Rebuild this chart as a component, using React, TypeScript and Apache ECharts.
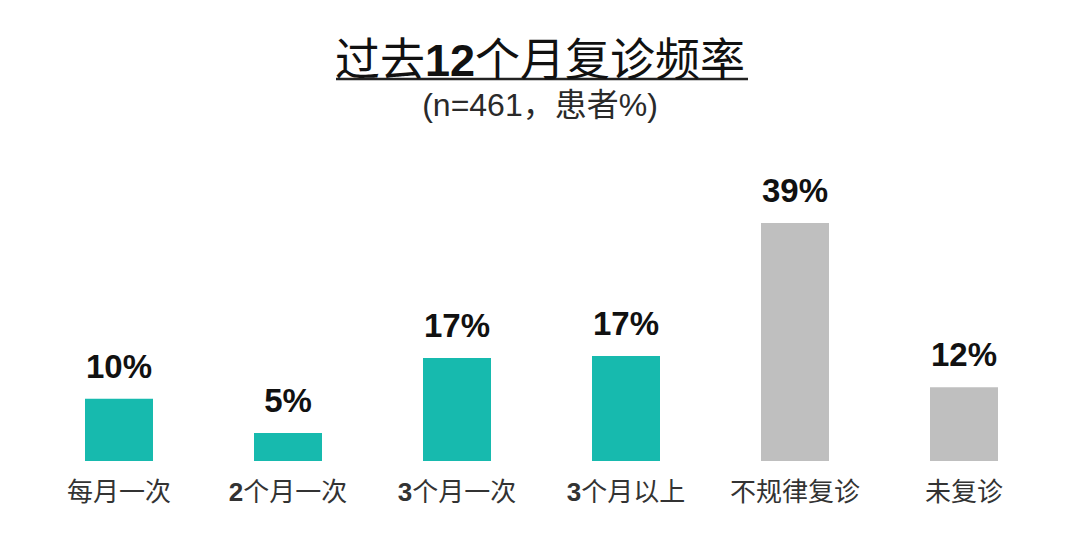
import React, { useEffect, useRef } from "react";
import * as echarts from "echarts";

const categories = ["每月一次", "2个月一次", "3个月一次", "3个月以上", "不规律复诊", "未复诊"];
const values = [10.2, 4.6, 16.9, 17.2, 39.0, 12.1];
const barColors = ["#17BAAE", "#17BAAE", "#17BAAE", "#17BAAE", "#BFBFBF", "#BFBFBF"];
const titleMain = ["过去", "12", "个月复诊频率"];
const subtitle = "(n=461，患者%)";

const FONT = "'Liberation Sans', 'Noto Sans CJK SC', sans-serif";

export default function App() {
  const ref = useRef<HTMLDivElement>(null);
  useEffect(() => {
    const chart = echarts.init(ref.current!, null, { renderer: "svg" });
    chart.setOption({
      animation: false,
      backgroundColor: "#ffffff",
      title: [
        {
          text: `{a|${titleMain[0]}}{b|${titleMain[1]}}{a|${titleMain[2]}}`,
          left: "center",
          top: 33,
          textStyle: {
            rich: {
              a: { fontSize: 45, fontFamily: FONT, color: "#111111", fontWeight: "normal" },
              b: { fontSize: 45, fontFamily: FONT, color: "#111111", fontWeight: "bold" },
            },
          },
        },
        {
          text: subtitle,
          left: "center",
          top: 84,
          textStyle: { fontSize: 32, fontFamily: FONT, color: "#2A2A2A", fontWeight: "normal" },
        },
      ],
      graphic: [
        {
          type: "line",
          shape: { x1: 336, y1: 79, x2: 748, y2: 79 },
          style: { stroke: "#222222", lineWidth: 2.5 },
        },
      ],
      grid: { left: 34.5, right: 31.5, top: 156, bottom: 79, containLabel: false },
      xAxis: {
        type: "category",
        data: categories,
        axisLine: { show: false },
        axisTick: { show: false },
        axisLabel: {
          interval: 0,
          margin: 18,
          formatter: (v: string) => {
            const m = v.match(/^(\d+)(.*)$/);
            return m ? `{d|${m[1]}}{c|${m[2]}}` : `{c|${v}}`;
          },
          rich: {
            c: { fontSize: 26, fontFamily: FONT, color: "#333333" },
            d: { fontSize: 26, fontFamily: FONT, color: "#333333", fontWeight: "bold" },
          },
        },
      },
      yAxis: { type: "value", min: 0, max: 50, show: false, splitLine: { show: false } },
      series: [
        {
          type: "bar",
          barWidth: 68,
          data: values.map((v, i) => ({ value: v, itemStyle: { color: barColors[i] } })),
          label: {
            show: true,
            position: "top",
            distance: 16,
            formatter: (p: any) => `${Math.round(p.value)}%`,
            fontSize: 33,
            fontWeight: "bold",
            fontFamily: FONT,
            color: "#111111",
          },
        },
      ],
    });
    return () => chart.dispose();
  }, []);
  return <div ref={ref} style={{ width: 1080, height: 540, position: "absolute", left: 0, top: 0 }} />;
}
